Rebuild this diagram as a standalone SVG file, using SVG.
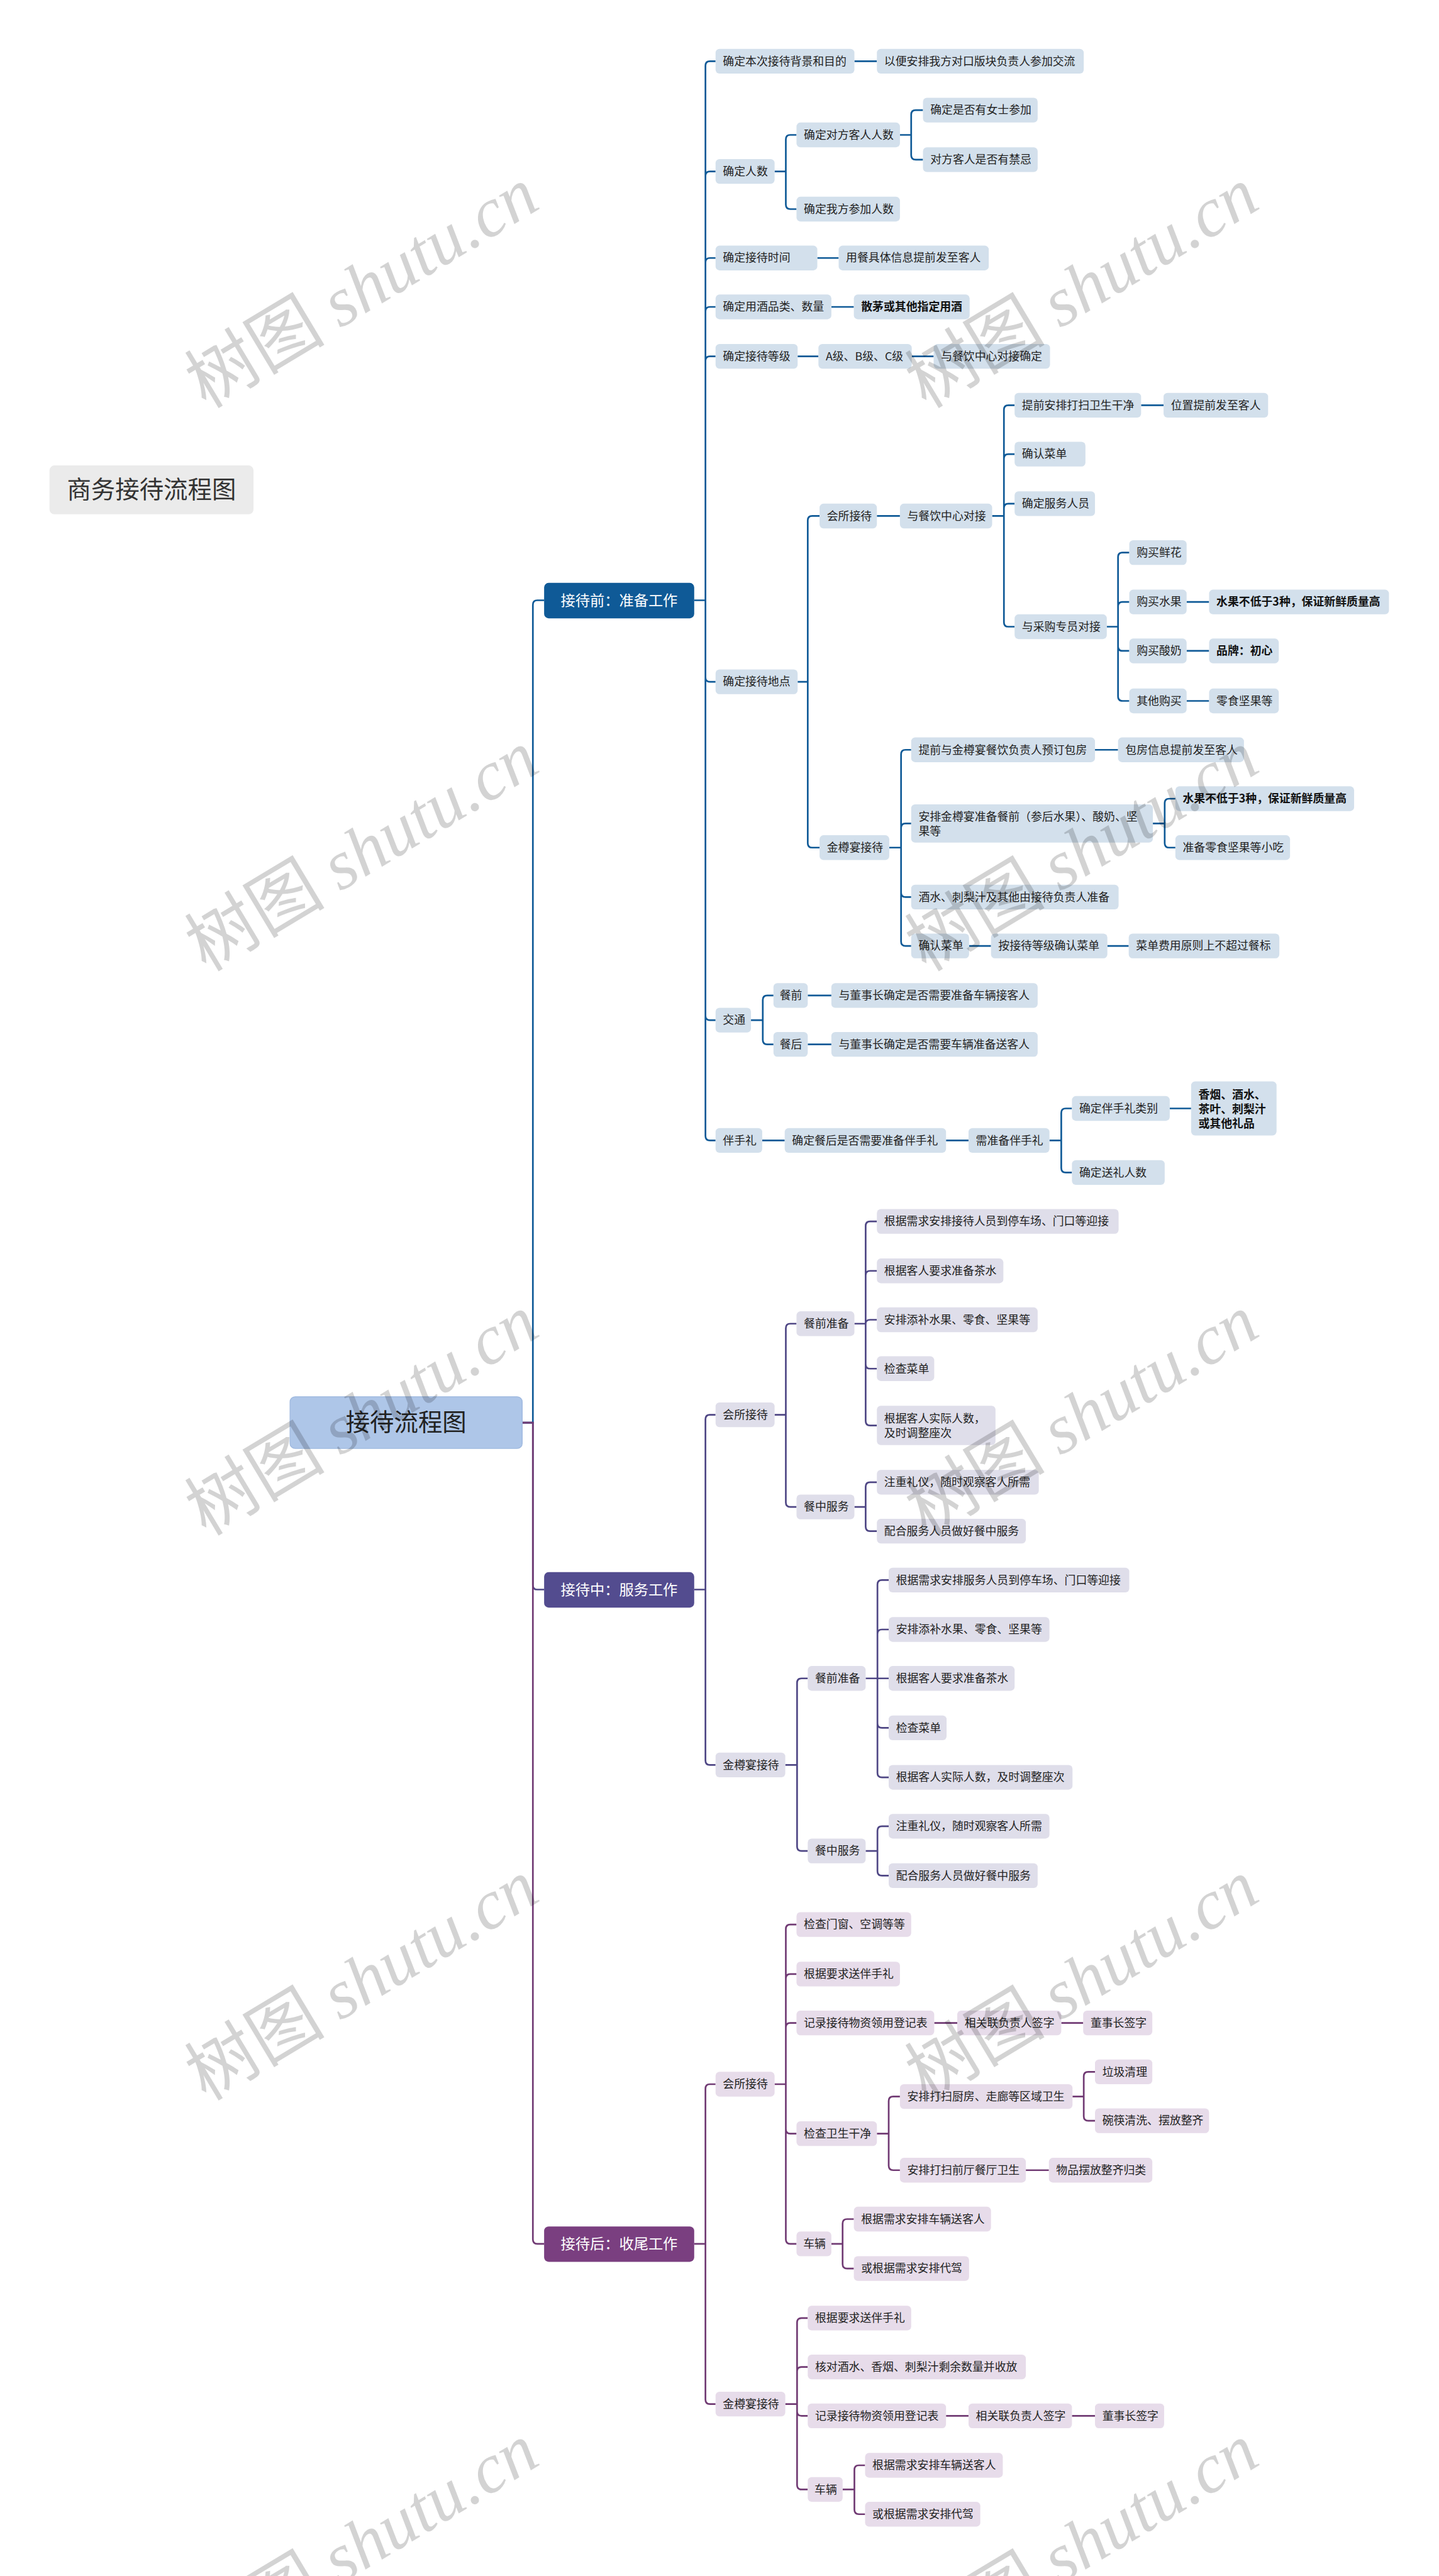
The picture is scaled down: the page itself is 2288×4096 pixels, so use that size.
<svg xmlns="http://www.w3.org/2000/svg" width="2288" height="4096" viewBox="0 0 2288 4096">
<style>
text{font-family:"Noto Sans CJK SC","Noto Sans",sans-serif;}
.t{font-size:20px;fill:#222;}
.tb{font-size:20px;fill:#111;font-weight:bold;}
.l1{font-size:26px;fill:#fff;text-anchor:middle;}
.b{fill:#d3e0ec;}
.p{fill:#dfdeea;}
.m{fill:#e7dcea;}
.cb{fill:none;stroke:#0f5a97;stroke-width:3;}
.cp{fill:none;stroke:#4f4785;stroke-width:3;}
.cm{fill:none;stroke:#713b74;stroke-width:3;}
.wm{font-size:125px;fill:#000;opacity:0.17;text-anchor:middle;}
</style>
<rect width="2288" height="4096" fill="#fff"/>
<g transform="scale(0.89375)">
<g id="connectors">
<path class="cb" d="M929,2531 H948 V1076 Q948,1068 956,1068 H968"/>
<path class="cp" d="M929,2531 H948 V2820 Q948,2828 956,2828 H968"/>
<path class="cm" d="M929,2531 H948 V3984 Q948,3992 956,3992 H968"/>
<path class="cb" d="M1235,1068 H1255 V117 Q1255,109 1263,109 H1273 M1235,1068 H1255 V313 Q1255,305 1263,305 H1273 M1235,1068 H1255 V467 Q1255,459 1263,459 H1273 M1235,1068 H1255 V554 Q1255,546 1263,546 H1273 M1235,1068 H1255 V642 Q1255,634 1263,634 H1273 M1235,1068 H1255 V1205 Q1255,1213 1263,1213 H1273 M1235,1068 H1255 V1807 Q1255,1815 1263,1815 H1273 M1235,1068 H1255 V2021 Q1255,2029 1263,2029 H1273"/>
<path class="cb" d="M1520,109 H1560 M1454,459 H1492 M1479,546 H1519 M1419,634 H1456 M1622,634 H1661"/>
<path class="cb" d="M1378,305 H1398 V248 Q1398,240 1406,240 H1417 M1378,305 H1398 V364 Q1398,372 1406,372 H1417"/>
<path class="cb" d="M1601,240 H1621 V204 Q1621,196 1629,196 H1642 M1601,240 H1621 V276 Q1621,284 1629,284 H1642"/>
<path class="cb" d="M1419,1213 H1437 V926 Q1437,918 1445,918 H1458 M1419,1213 H1437 V1500 Q1437,1508 1445,1508 H1458"/>
<path class="cb" d="M1560,918 H1601"/>
<path class="cb" d="M1765,918 H1786 V729 Q1786,721 1794,721 H1805 M1765,918 H1786 V816 Q1786,808 1794,808 H1805 M1765,918 H1786 V904 Q1786,896 1794,896 H1805 M1765,918 H1786 V1107 Q1786,1115 1794,1115 H1805"/>
<path class="cb" d="M2030,721 H2070"/>
<path class="cb" d="M1969,1115 H1989 V991 Q1989,983 1997,983 H2009 M1969,1115 H1989 V1079 Q1989,1071 1997,1071 H2009 M1969,1115 H1989 V1150 Q1989,1158 1997,1158 H2009 M1969,1115 H1989 V1239 Q1989,1247 1997,1247 H2009"/>
<path class="cb" d="M2111,1071 H2151 M2111,1158 H2151 M2111,1247 H2151"/>
<path class="cb" d="M1582,1508 H1603 V1342 Q1603,1334 1611,1334 H1621 M1582,1508 H1603 V1473 Q1603,1465 1611,1465 H1621 M1582,1508 H1603 V1588 Q1603,1596 1611,1596 H1621 M1582,1508 H1603 V1675 Q1603,1683 1611,1683 H1621"/>
<path class="cb" d="M1948,1334 H1989"/>
<path class="cb" d="M2051,1465 H2072 V1429 Q2072,1421 2080,1421 H2091 M2051,1465 H2072 V1500 Q2072,1508 2080,1508 H2091"/>
<path class="cb" d="M1724,1683 H1763 M1970,1683 H2008"/>
<path class="cb" d="M1336,1815 H1357 V1779 Q1357,1771 1365,1771 H1376 M1336,1815 H1357 V1850 Q1357,1858 1365,1858 H1376"/>
<path class="cb" d="M1437,1771 H1479 M1437,1858 H1479"/>
<path class="cb" d="M1356,2029 H1396 M1683,2029 H1723"/>
<path class="cb" d="M1867,2029 H1888 V1980 Q1888,1972 1896,1972 H1907 M1867,2029 H1888 V2078 Q1888,2086 1896,2086 H1907"/>
<path class="cb" d="M2081,1972 H2119"/>
<path class="cp" d="M1235,2828 H1255 V2525 Q1255,2517 1263,2517 H1273 M1235,2828 H1255 V3132 Q1255,3140 1263,3140 H1273"/>
<path class="cp" d="M1378,2517 H1398 V2363 Q1398,2355 1406,2355 H1417 M1378,2517 H1398 V2673 Q1398,2681 1406,2681 H1417"/>
<path class="cp" d="M1520,2355 H1540 V2181 Q1540,2173 1548,2173 H1560 M1520,2355 H1540 V2269 Q1540,2261 1548,2261 H1560 M1520,2355 H1540 Q1540,2348 1548,2348 H1560 M1520,2355 H1540 V2427 Q1540,2435 1548,2435 H1560 M1520,2355 H1540 V2528 Q1540,2536 1548,2536 H1560"/>
<path class="cp" d="M1520,2681 H1540 V2645 Q1540,2637 1548,2637 H1560 M1520,2681 H1540 V2716 Q1540,2724 1548,2724 H1560"/>
<path class="cp" d="M1397,3140 H1418 V2994 Q1418,2986 1426,2986 H1437 M1397,3140 H1418 V3285 Q1418,3293 1426,3293 H1437"/>
<path class="cp" d="M1540,2986 H1561 V2819 Q1561,2811 1569,2811 H1581 M1540,2986 H1561 V2907 Q1561,2899 1569,2899 H1581 M1540,2986 H1581 M1540,2986 H1561 V3066 Q1561,3074 1569,3074 H1581 M1540,2986 H1561 V3154 Q1561,3162 1569,3162 H1581"/>
<path class="cp" d="M1540,3293 H1561 V3257 Q1561,3249 1569,3249 H1581 M1540,3293 H1561 V3329 Q1561,3337 1569,3337 H1581"/>
<path class="cm" d="M1235,3992 H1255 V3716 Q1255,3708 1263,3708 H1273 M1235,3992 H1255 V4269 Q1255,4277 1263,4277 H1273"/>
<path class="cm" d="M1378,3708 H1398 V3432 Q1398,3424 1406,3424 H1417 M1378,3708 H1398 V3520 Q1398,3512 1406,3512 H1417 M1378,3708 H1398 V3607 Q1398,3599 1406,3599 H1417 M1378,3708 H1398 V3788 Q1398,3796 1406,3796 H1417 M1378,3708 H1398 V3984 Q1398,3992 1406,3992 H1417"/>
<path class="cm" d="M1662,3599 H1703 M1888,3599 H1927"/>
<path class="cm" d="M1560,3796 H1581 V3738 Q1581,3730 1589,3730 H1601 M1560,3796 H1581 V3853 Q1581,3861 1589,3861 H1601"/>
<path class="cm" d="M1908,3730 H1928 V3694 Q1928,3686 1936,3686 H1948 M1908,3730 H1928 V3765 Q1928,3773 1936,3773 H1948"/>
<path class="cm" d="M1825,3861 H1866"/>
<path class="cm" d="M1479,3992 H1499 V3956 Q1499,3948 1507,3948 H1519 M1479,3992 H1499 V4028 Q1499,4036 1507,4036 H1519"/>
<path class="cm" d="M1397,4277 H1418 V4132 Q1418,4124 1426,4124 H1437 M1397,4277 H1418 V4219 Q1418,4211 1426,4211 H1437 M1397,4277 H1418 V4290 Q1418,4298 1426,4298 H1437 M1397,4277 H1418 V4421 Q1418,4429 1426,4429 H1437"/>
<path class="cm" d="M1683,4298 H1723 M1907,4298 H1948"/>
<path class="cm" d="M1499,4429 H1520 V4394 Q1520,4386 1528,4386 H1539 M1499,4429 H1520 V4465 Q1520,4473 1528,4473 H1539"/>
</g>

<g id="title"><rect x="88" y="828" width="363" height="87" rx="9" fill="#ebebeb"/><text x="269.5" y="886" font-size="43" fill="#333" text-anchor="middle">商务接待流程图</text></g>
<g id="root"><rect x="516" y="2485" width="413" height="92" rx="9" fill="#aec6e8" stroke="#9fb9df" stroke-width="1.5"/><text x="722.5" y="2546" font-size="43" fill="#222" text-anchor="middle">接待流程图</text></g>
<g id="L1a"><rect x="968" y="1037" width="267" height="63" rx="8" fill="#0f5a97"/><text class="l1" x="1101.5" y="1077">接待前：准备工作</text></g>
<g id="L1b"><rect x="968" y="2797" width="267" height="63" rx="8" fill="#534c8f"/><text class="l1" x="1101.5" y="2837">接待中：服务工作</text></g>
<g id="L1c"><rect x="968" y="3961" width="267" height="63" rx="8" fill="#7a3f80"/><text class="l1" x="1101.5" y="4001">接待后：收尾工作</text></g>

<g id="B1"><rect class="b" x="1273" y="87" width="247" height="44" rx="7"/><text class="t" x="1286" y="116">确定本次接待背景和目的</text></g>
<g id="B1a"><rect class="b" x="1560" y="87" width="368" height="44" rx="7"/><text class="t" x="1573" y="116">以便安排我方对口版块负责人参加交流</text></g>
<g id="B2"><rect class="b" x="1273" y="283" width="105" height="44" rx="7"/><text class="t" x="1286" y="312">确定人数</text></g>
<g id="B2a"><rect class="b" x="1417" y="218" width="184" height="44" rx="7"/><text class="t" x="1430" y="247">确定对方客人人数</text></g>
<g id="B2a1"><rect class="b" x="1642" y="174" width="204" height="44" rx="7"/><text class="t" x="1655" y="203">确定是否有女士参加</text></g>
<g id="B2a2"><rect class="b" x="1642" y="262" width="204" height="44" rx="7"/><text class="t" x="1655" y="291">对方客人是否有禁忌</text></g>
<g id="B2b"><rect class="b" x="1417" y="350" width="184" height="44" rx="7"/><text class="t" x="1430" y="379">确定我方参加人数</text></g>
<g id="B3"><rect class="b" x="1273" y="437" width="181" height="44" rx="7"/><text class="t" x="1286" y="466">确定接待时间</text></g>
<g id="B3a"><rect class="b" x="1492" y="437" width="267" height="44" rx="7"/><text class="t" x="1505" y="466">用餐具体信息提前发至客人</text></g>
<g id="B4"><rect class="b" x="1273" y="524" width="206" height="44" rx="7"/><text class="t" x="1286" y="553">确定用酒品类、数量</text></g>
<g id="B4a"><rect class="b" x="1519" y="524" width="206" height="44" rx="7"/><text class="tb" x="1532" y="553">散茅或其他指定用酒</text></g>
<g id="B5"><rect class="b" x="1273" y="612" width="146" height="44" rx="7"/><text class="t" x="1286" y="641">确定接待等级</text></g>
<g id="B5a"><rect class="b" x="1456" y="612" width="166" height="44" rx="7"/><text class="t" x="1469" y="641">A级、B级、C级</text></g>
<g id="B5b"><rect class="b" x="1661" y="612" width="207" height="44" rx="7"/><text class="t" x="1674" y="641">与餐饮中心对接确定</text></g>
<g id="B6"><rect class="b" x="1273" y="1191" width="146" height="44" rx="7"/><text class="t" x="1286" y="1220">确定接待地点</text></g>
<g id="B6a"><rect class="b" x="1458" y="896" width="102" height="44" rx="7"/><text class="t" x="1471" y="925">会所接待</text></g>
<g id="B6a1"><rect class="b" x="1601" y="896" width="164" height="44" rx="7"/><text class="t" x="1614" y="925">与餐饮中心对接</text></g>
<g id="B6a1a"><rect class="b" x="1805" y="699" width="225" height="44" rx="7"/><text class="t" x="1818" y="728">提前安排打扫卫生干净</text></g>
<g id="B6a1a1"><rect class="b" x="2070" y="699" width="186" height="44" rx="7"/><text class="t" x="2083" y="728">位置提前发至客人</text></g>
<g id="B6a1b"><rect class="b" x="1805" y="786" width="126" height="44" rx="7"/><text class="t" x="1818" y="815">确认菜单</text></g>
<g id="B6a1c"><rect class="b" x="1805" y="874" width="143" height="44" rx="7"/><text class="t" x="1818" y="903">确定服务人员</text></g>
<g id="B6a1d"><rect class="b" x="1805" y="1093" width="164" height="44" rx="7"/><text class="t" x="1818" y="1122">与采购专员对接</text></g>
<g id="B6a1d1"><rect class="b" x="2009" y="961" width="102" height="44" rx="7"/><text class="t" x="2022" y="990">购买鲜花</text></g>
<g id="B6a1d2"><rect class="b" x="2009" y="1049" width="102" height="44" rx="7"/><text class="t" x="2022" y="1078">购买水果</text></g>
<g id="B6a1d2a"><rect class="b" x="2151" y="1049" width="320" height="44" rx="7"/><text class="tb" x="2164" y="1078">水果不低于3种，保证新鲜质量高</text></g>
<g id="B6a1d3"><rect class="b" x="2009" y="1136" width="102" height="44" rx="7"/><text class="t" x="2022" y="1165">购买酸奶</text></g>
<g id="B6a1d3a"><rect class="b" x="2151" y="1136" width="124" height="44" rx="7"/><text class="tb" x="2164" y="1165">品牌：初心</text></g>
<g id="B6a1d4"><rect class="b" x="2009" y="1225" width="102" height="44" rx="7"/><text class="t" x="2022" y="1254">其他购买</text></g>
<g id="B6a1d4a"><rect class="b" x="2151" y="1225" width="124" height="44" rx="7"/><text class="t" x="2164" y="1254">零食坚果等</text></g>
<g id="B6b"><rect class="b" x="1458" y="1486" width="124" height="44" rx="7"/><text class="t" x="1471" y="1515">金樽宴接待</text></g>
<g id="B6b1"><rect class="b" x="1621" y="1312" width="327" height="44" rx="7"/><text class="t" x="1634" y="1341">提前与金樽宴餐饮负责人预订包房</text></g>
<g id="B6b1a"><rect class="b" x="1989" y="1312" width="224" height="44" rx="7"/><text class="t" x="2002" y="1341">包房信息提前发至客人</text></g>
<g id="B6b2"><rect class="b" x="1621" y="1431" width="430" height="68" rx="7"/><text class="t" x="1634" y="1460">安排金樽宴准备餐前（参后水果）、酸奶、坚</text><text class="t" x="1634" y="1486">果等</text></g>
<g id="B6b2a"><rect class="b" x="2091" y="1399" width="318" height="44" rx="7"/><text class="tb" x="2104" y="1428">水果不低于3种，保证新鲜质量高</text></g>
<g id="B6b2b"><rect class="b" x="2091" y="1486" width="204" height="44" rx="7"/><text class="t" x="2104" y="1515">准备零食坚果等小吃</text></g>
<g id="B6b3"><rect class="b" x="1621" y="1574" width="369" height="44" rx="7"/><text class="t" x="1634" y="1603">酒水、刺梨汁及其他由接待负责人准备</text></g>
<g id="B6b4"><rect class="b" x="1621" y="1661" width="103" height="44" rx="7"/><text class="t" x="1634" y="1690">确认菜单</text></g>
<g id="B6b4a"><rect class="b" x="1763" y="1661" width="207" height="44" rx="7"/><text class="t" x="1776" y="1690">按接待等级确认菜单</text></g>
<g id="B6b4b"><rect class="b" x="2008" y="1661" width="268" height="44" rx="7"/><text class="t" x="2021" y="1690">菜单费用原则上不超过餐标</text></g>
<g id="B7"><rect class="b" x="1273" y="1793" width="63" height="44" rx="7"/><text class="t" x="1286" y="1822">交通</text></g>
<g id="B7a"><rect class="b" x="1376" y="1749" width="61" height="44" rx="7"/><text class="t" x="1387" y="1778">餐前</text></g>
<g id="B7a1"><rect class="b" x="1479" y="1749" width="367" height="44" rx="7"/><text class="t" x="1492" y="1778">与董事长确定是否需要准备车辆接客人</text></g>
<g id="B7b"><rect class="b" x="1376" y="1836" width="61" height="44" rx="7"/><text class="t" x="1387" y="1865">餐后</text></g>
<g id="B7b1"><rect class="b" x="1479" y="1836" width="367" height="44" rx="7"/><text class="t" x="1492" y="1865">与董事长确定是否需要车辆准备送客人</text></g>
<g id="B8"><rect class="b" x="1273" y="2007" width="83" height="44" rx="7"/><text class="t" x="1286" y="2036">伴手礼</text></g>
<g id="B8a"><rect class="b" x="1396" y="2007" width="287" height="44" rx="7"/><text class="t" x="1409" y="2036">确定餐后是否需要准备伴手礼</text></g>
<g id="B8b"><rect class="b" x="1723" y="2007" width="144" height="44" rx="7"/><text class="t" x="1736" y="2036">需准备伴手礼</text></g>
<g id="B8b1"><rect class="b" x="1907" y="1950" width="174" height="44" rx="7"/><text class="t" x="1920" y="1979">确定伴手礼类别</text></g>
<g id="B8b1a"><rect class="b" x="2119" y="1924" width="152" height="96" rx="7"/><text class="tb" x="2132" y="1955">香烟、酒水、</text><text class="tb" x="2132" y="1980">茶叶、刺梨汁</text><text class="tb" x="2132" y="2006">或其他礼品</text></g>
<g id="B8b2"><rect class="b" x="1907" y="2064" width="165" height="44" rx="7"/><text class="t" x="1920" y="2093">确定送礼人数</text></g>

<g id="P1"><rect class="p" x="1273" y="2495" width="105" height="44" rx="7"/><text class="t" x="1286" y="2524">会所接待</text></g>
<g id="P1a"><rect class="p" x="1417" y="2333" width="103" height="44" rx="7"/><text class="t" x="1430" y="2362">餐前准备</text></g>
<g id="P1a1"><rect class="p" x="1560" y="2151" width="430" height="44" rx="7"/><text class="t" x="1573" y="2180">根据需求安排接待人员到停车场、门口等迎接</text></g>
<g id="P1a2"><rect class="p" x="1560" y="2239" width="225" height="44" rx="7"/><text class="t" x="1573" y="2268">根据客人要求准备茶水</text></g>
<g id="P1a3"><rect class="p" x="1560" y="2326" width="286" height="44" rx="7"/><text class="t" x="1573" y="2355">安排添补水果、零食、坚果等</text></g>
<g id="P1a4"><rect class="p" x="1560" y="2413" width="102" height="44" rx="7"/><text class="t" x="1573" y="2442">检查菜单</text></g>
<g id="P1a5"><rect class="p" x="1560" y="2501" width="211" height="70" rx="7"/><text class="t" x="1573" y="2531">根据客人实际人数，</text><text class="t" x="1573" y="2557">及时调整座次</text></g>
<g id="P1b"><rect class="p" x="1417" y="2659" width="103" height="44" rx="7"/><text class="t" x="1430" y="2688">餐中服务</text></g>
<g id="P1b1"><rect class="p" x="1560" y="2615" width="288" height="44" rx="7"/><text class="t" x="1573" y="2644">注重礼仪，随时观察客人所需</text></g>
<g id="P1b2"><rect class="p" x="1560" y="2702" width="265" height="44" rx="7"/><text class="t" x="1573" y="2731">配合服务人员做好餐中服务</text></g>
<g id="P2"><rect class="p" x="1273" y="3118" width="124" height="44" rx="7"/><text class="t" x="1286" y="3147">金樽宴接待</text></g>
<g id="P2a"><rect class="p" x="1437" y="2964" width="103" height="44" rx="7"/><text class="t" x="1450" y="2993">餐前准备</text></g>
<g id="P2a1"><rect class="p" x="1581" y="2789" width="428" height="44" rx="7"/><text class="t" x="1594" y="2818">根据需求安排服务人员到停车场、门口等迎接</text></g>
<g id="P2a2"><rect class="p" x="1581" y="2877" width="286" height="44" rx="7"/><text class="t" x="1594" y="2906">安排添补水果、零食、坚果等</text></g>
<g id="P2a3"><rect class="p" x="1581" y="2964" width="224" height="44" rx="7"/><text class="t" x="1594" y="2993">根据客人要求准备茶水</text></g>
<g id="P2a4"><rect class="p" x="1581" y="3052" width="103" height="44" rx="7"/><text class="t" x="1594" y="3081">检查菜单</text></g>
<g id="P2a5"><rect class="p" x="1581" y="3140" width="327" height="44" rx="7"/><text class="t" x="1594" y="3169">根据客人实际人数，及时调整座次</text></g>
<g id="P2b"><rect class="p" x="1437" y="3271" width="103" height="44" rx="7"/><text class="t" x="1450" y="3300">餐中服务</text></g>
<g id="P2b1"><rect class="p" x="1581" y="3227" width="286" height="44" rx="7"/><text class="t" x="1594" y="3256">注重礼仪，随时观察客人所需</text></g>
<g id="P2b2"><rect class="p" x="1581" y="3315" width="265" height="44" rx="7"/><text class="t" x="1594" y="3344">配合服务人员做好餐中服务</text></g>

<g id="M1"><rect class="m" x="1273" y="3686" width="105" height="44" rx="7"/><text class="t" x="1286" y="3715">会所接待</text></g>
<g id="M1a"><rect class="m" x="1417" y="3402" width="204" height="44" rx="7"/><text class="t" x="1430" y="3431">检查门窗、空调等等</text></g>
<g id="M1b"><rect class="m" x="1417" y="3490" width="184" height="44" rx="7"/><text class="t" x="1430" y="3519">根据要求送伴手礼</text></g>
<g id="M1c"><rect class="m" x="1417" y="3577" width="245" height="44" rx="7"/><text class="t" x="1430" y="3606">记录接待物资领用登记表</text></g>
<g id="M1c1"><rect class="m" x="1703" y="3577" width="185" height="44" rx="7"/><text class="t" x="1716" y="3606">相关联负责人签字</text></g>
<g id="M1c2"><rect class="m" x="1927" y="3577" width="123" height="44" rx="7"/><text class="t" x="1940" y="3606">董事长签字</text></g>
<g id="M1d"><rect class="m" x="1417" y="3774" width="143" height="44" rx="7"/><text class="t" x="1430" y="3803">检查卫生干净</text></g>
<g id="M1d1"><rect class="m" x="1601" y="3708" width="307" height="44" rx="7"/><text class="t" x="1614" y="3737">安排打扫厨房、走廊等区域卫生</text></g>
<g id="M1d1a"><rect class="m" x="1948" y="3664" width="102" height="44" rx="7"/><text class="t" x="1961" y="3693">垃圾清理</text></g>
<g id="M1d1b"><rect class="m" x="1948" y="3751" width="203" height="44" rx="7"/><text class="t" x="1961" y="3780">碗筷清洗、摆放整齐</text></g>
<g id="M1d2"><rect class="m" x="1601" y="3839" width="224" height="44" rx="7"/><text class="t" x="1614" y="3868">安排打扫前厅餐厅卫生</text></g>
<g id="M1d2a"><rect class="m" x="1866" y="3839" width="184" height="44" rx="7"/><text class="t" x="1879" y="3868">物品摆放整齐归类</text></g>
<g id="M1e"><rect class="m" x="1417" y="3970" width="62" height="44" rx="7"/><text class="t" x="1429" y="3999">车辆</text></g>
<g id="M1e1"><rect class="m" x="1519" y="3926" width="244" height="44" rx="7"/><text class="t" x="1532" y="3955">根据需求安排车辆送客人</text></g>
<g id="M1e2"><rect class="m" x="1519" y="4014" width="205" height="44" rx="7"/><text class="t" x="1532" y="4043">或根据需求安排代驾</text></g>
<g id="M2"><rect class="m" x="1273" y="4255" width="124" height="44" rx="7"/><text class="t" x="1286" y="4284">金樽宴接待</text></g>
<g id="M2a"><rect class="m" x="1437" y="4102" width="184" height="44" rx="7"/><text class="t" x="1450" y="4131">根据要求送伴手礼</text></g>
<g id="M2b"><rect class="m" x="1437" y="4189" width="388" height="44" rx="7"/><text class="t" x="1450" y="4218">核对酒水、香烟、刺梨汁剩余数量并收放</text></g>
<g id="M2c"><rect class="m" x="1437" y="4276" width="246" height="44" rx="7"/><text class="t" x="1450" y="4305">记录接待物资领用登记表</text></g>
<g id="M2c1"><rect class="m" x="1723" y="4276" width="184" height="44" rx="7"/><text class="t" x="1736" y="4305">相关联负责人签字</text></g>
<g id="M2c2"><rect class="m" x="1948" y="4276" width="123" height="44" rx="7"/><text class="t" x="1961" y="4305">董事长签字</text></g>
<g id="M2d"><rect class="m" x="1437" y="4407" width="62" height="44" rx="7"/><text class="t" x="1449" y="4436">车辆</text></g>
<g id="M2d1"><rect class="m" x="1539" y="4364" width="245" height="44" rx="7"/><text class="t" x="1552" y="4393">根据需求安排车辆送客人</text></g>
<g id="M2d2"><rect class="m" x="1539" y="4451" width="205" height="44" rx="7"/><text class="t" x="1552" y="4480">或根据需求安排代驾</text></g>

<g id="watermarks">
<text class="wm" transform="translate(645,514) rotate(-31)" y="40"><tspan>树图 </tspan><tspan font-family="Liberation Serif" font-style="italic">shutu.cn</tspan></text>
<text class="wm" transform="translate(1926,514) rotate(-31)" y="40"><tspan>树图 </tspan><tspan font-family="Liberation Serif" font-style="italic">shutu.cn</tspan></text>
<text class="wm" transform="translate(645,1516) rotate(-31)" y="40"><tspan>树图 </tspan><tspan font-family="Liberation Serif" font-style="italic">shutu.cn</tspan></text>
<text class="wm" transform="translate(1926,1516) rotate(-31)" y="40"><tspan>树图 </tspan><tspan font-family="Liberation Serif" font-style="italic">shutu.cn</tspan></text>
<text class="wm" transform="translate(645,2520) rotate(-31)" y="40"><tspan>树图 </tspan><tspan font-family="Liberation Serif" font-style="italic">shutu.cn</tspan></text>
<text class="wm" transform="translate(1926,2520) rotate(-31)" y="40"><tspan>树图 </tspan><tspan font-family="Liberation Serif" font-style="italic">shutu.cn</tspan></text>
<text class="wm" transform="translate(645,3525) rotate(-31)" y="40"><tspan>树图 </tspan><tspan font-family="Liberation Serif" font-style="italic">shutu.cn</tspan></text>
<text class="wm" transform="translate(1926,3525) rotate(-31)" y="40"><tspan>树图 </tspan><tspan font-family="Liberation Serif" font-style="italic">shutu.cn</tspan></text>
<text class="wm" transform="translate(645,4528) rotate(-31)" y="40"><tspan>树图 </tspan><tspan font-family="Liberation Serif" font-style="italic">shutu.cn</tspan></text>
<text class="wm" transform="translate(1926,4528) rotate(-31)" y="40"><tspan>树图 </tspan><tspan font-family="Liberation Serif" font-style="italic">shutu.cn</tspan></text>
</g>
</g>
</svg>
